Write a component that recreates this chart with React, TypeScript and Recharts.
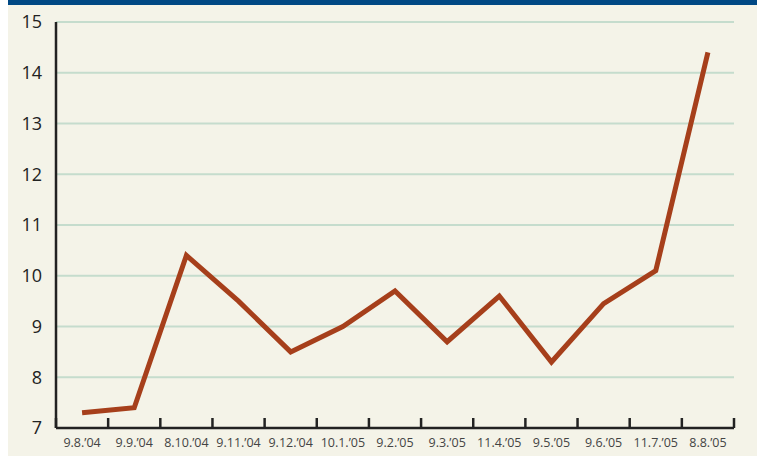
import React from "react";
import { LineChart, Line, XAxis, YAxis, CartesianGrid } from "recharts";

const categories = [
  "9.8.’04", "9.9.’04", "8.10.’04", "9.11.’04", "9.12.’04", "10.1.’05", "9.2.’05",
  "9.3.’05", "11.4.’05", "9.5.’05", "9.6.’05", "11.7.’05", "8.8.’05",
];
const values = [7.3, 7.4, 10.4, 9.5, 8.5, 9.0, 9.7, 8.7, 9.6, 8.3, 9.45, 10.1, 14.4];
const yTicks = [7, 8, 9, 10, 11, 12, 13, 14, 15];

const data = categories.map((c, i) => ({ name: c, value: values[i] }));

const FONT = "'Open Sans', 'Noto Sans', sans-serif";

const XTick = (props: any) => {
  const { x, y, payload, index, visibleTicksCount } = props;
  const half = payload && payload.offset ? payload.offset : 26;
  const last = index === (visibleTicksCount ?? categories.length) - 1;
  return (
    <g>
      <line x1={x - half} y1={y} x2={x - half} y2={y - 10} stroke="#222" strokeWidth={2.5} />
      {last && <line x1={x + half} y1={y} x2={x + half} y2={y - 10} stroke="#222" strokeWidth={2.5} />}
      <text x={x} y={y + 19} textAnchor="middle" fill="#444" fontSize={12.5} fontFamily={FONT}>
        {payload.value}
      </text>
    </g>
  );
};

export default function App() {
  return (
    <div style={{ position: "absolute", left: 8, top: 0, width: 749, height: 456, background: "#F4F3E8" }}>
      <div style={{ position: "absolute", left: 0, top: 0, width: 749, height: 5, background: "#004884" }} />
      <div style={{ position: "absolute", left: 0, top: 0 }}>
        <LineChart width={749} height={456} data={data} margin={{ top: 22, right: 23, bottom: 0, left: 0 }}>
          <CartesianGrid vertical={false} stroke="#C5DCCD" strokeWidth={2} />
          <XAxis
            dataKey="name"
            scale="band"
            height={28}
            tickLine={false}
            tickSize={0}
            tickMargin={0}
            interval={0}
            axisLine={{ stroke: "#222", strokeWidth: 2.5 }}
            tick={<XTick />}
          />
          <YAxis
            width={48}
            domain={[7, 15]}
            ticks={yTicks}
            interval={0}
            tickLine={false}
            tickMargin={8}
            axisLine={{ stroke: "#222", strokeWidth: 2.5 }}
            tick={{ fill: "#222", fontSize: 18, fontFamily: FONT }}
          />
          <Line
            type="linear"
            dataKey="value"
            stroke="#A63F1B"
            strokeWidth={5}
            dot={false}
            isAnimationActive={false}
          />
        </LineChart>
      </div>
    </div>
  );
}
